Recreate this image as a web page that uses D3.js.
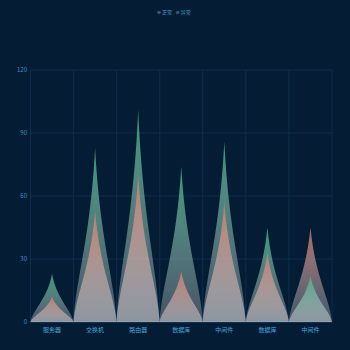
<!DOCTYPE html>
<html><head><meta charset="utf-8">
<script src="https://cdn.jsdelivr.net/npm/d3@7"></script>
<style>html,body{margin:0;padding:0;background:#041d34;}svg{display:block;}</style>
</head><body>
<svg id="c" width="350" height="350"></svg>
<script>
const categories = ["服务器","交换机","路由器","数据库","中间件","数据库","中间件"];
const normalValues = [23, 83, 101, 74, 86, 45, 22];
const abnormalValues = [12, 53, 70, 24, 57, 33, 45];
const yTicks = [0, 30, 60, 90, 120];
const seriesNames = ["正常", "异常"];
const seriesTop = ["#46b08a", "#d47a6a"];

const svg = d3.select("#c");
svg.append("rect").attr("width",350).attr("height",350).attr("fill","#041d34");
const L = 30.5, R = 332, T = 70, B = 322;
const x = d3.scaleBand().domain(d3.range(categories.length)).range([L, R]).padding(0);
const y = d3.scaleLinear().domain([0, 120]).range([B, T]);

const defs = svg.append("defs");
function grad(id, top, topOp, bot, botOp) {
  const g = defs.append("linearGradient").attr("id", id)
    .attr("x1",0).attr("y1",0).attr("x2",0).attr("y2",1);
  g.append("stop").attr("offset","0%").attr("stop-color",top).attr("stop-opacity",topOp);
  g.append("stop").attr("offset","100%").attr("stop-color",bot).attr("stop-opacity",botOp);
}
// back (taller) and front (shorter) variants per series
seriesTop.forEach((c, k) => {
  grad("gB" + k, c, 0.85, "#cdd0d6", 0.3);
  grad("gF" + k, c, 0.85, "#d2d3d6", 0.52);
});

// grid
const grid = svg.append("g");
yTicks.forEach(t => grid.append("line").attr("x1",L).attr("x2",R).attr("y1",y(t)).attr("y2",y(t))
  .attr("stroke", t===0 ? "#24476a" : "#0e2d4d").attr("stroke-width",1));
for (let i = 0; i <= categories.length; i++) {
  const xx = i < categories.length ? x(i) : R;
  grid.append("line").attr("x1",xx).attr("x2",xx).attr("y1",T).attr("y2",B)
    .attr("stroke","#0e2d4d").attr("stroke-width",1);
}

function spike(i, v) {
  const w = x.bandwidth();
  const cx = x(i) + w/2, base = y(0), top = y(v), h = base - top;
  const px = f => f * w, py = f => base - f * h;
  return `M${cx - w/2},${base} L${cx + w/2},${base}` +
    ` C${cx + px(0.45)},${py(0.25)} ${cx + px(0.11)},${py(0.47)} ${cx},${top}` +
    ` C${cx - px(0.11)},${py(0.47)} ${cx - px(0.45)},${py(0.25)} ${cx - w/2},${base} Z`;
}
// per category: taller spike behind, shorter one in front
const marks = [];
categories.forEach((c, i) => {
  const pair = [{k:0, v: normalValues[i], i}, {k:1, v: abnormalValues[i], i}];
  pair.sort((a, b) => b.v - a.v);
  pair.forEach((p, j) => marks.push({...p, front: j === 1}));
});
svg.append("g").selectAll("path").data(marks).join("path")
  .attr("d", d => spike(d.i, d.v))
  .attr("fill", d => `url(#${d.front ? "gF" : "gB"}${d.k})`);

// y axis labels
svg.append("g").selectAll("text").data(yTicks).join("text")
  .attr("x",27).attr("y",d=>y(d)).attr("dy","0.35em").attr("text-anchor","end")
  .attr("font-family","Noto Sans CJK SC, sans-serif").attr("font-size",6).attr("fill","#3f8fc7")
  .text(d=>d);
// x labels
svg.append("g").selectAll("text").data(categories).join("text")
  .attr("x",(d,i)=>x(i)+x.bandwidth()/2).attr("y",330).attr("dy","0.35em").attr("text-anchor","middle")
  .attr("font-family","Noto Sans CJK SC, sans-serif").attr("font-size",6).attr("fill","#4aa3dc")
  .text(d=>d);

// legend
const lg = svg.append("g");
const lx = [159, 177.7];
seriesNames.forEach((n, k) => {
  lg.append("circle").attr("cx",lx[k]).attr("cy",12.5).attr("r",1.8).attr("fill","#3a5570");
  lg.append("text").attr("x",lx[k]+3).attr("y",12.5).attr("dy","0.35em")
    .attr("font-family","Noto Sans CJK SC, sans-serif").attr("font-size",5).attr("fill","#4aa3dc").text(n);
});
</script>
</body></html>
